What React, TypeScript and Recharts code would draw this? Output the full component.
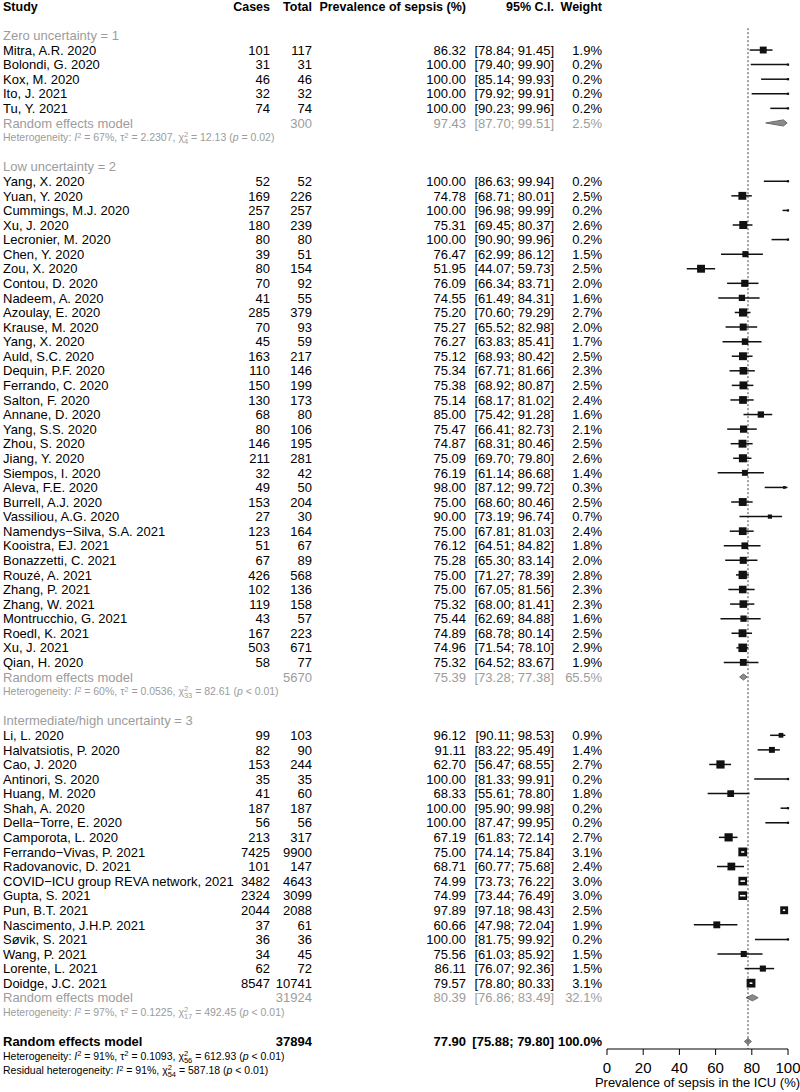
import React from "react";
import { ComposedChart, XAxis, YAxis, Scatter, ErrorBar, Area, ReferenceLine } from "recharts";

const FONT = "'Liberation Sans', Arial, Helvetica, sans-serif";
const W = 800;
const H = 1092;
const M = { top: 0, right: 12, bottom: 13, left: 607 };
const X_AXIS_H = 30;
const PLOT_H = H - M.top - M.bottom - X_AXIS_H;
const PLOT_W = W - M.left - M.right;
const Y_MIN = -0.432;
const Y_MAX = 71.516;
const PITCH = PLOT_H / (Y_MAX - Y_MIN);
const PX_PER_UNIT = PLOT_W / 100;

const GRAY = "#9c9c9c";
const BLACK = "#000";

// column anchors (table layout)
const COL_STUDY = 3;
const COL_CASES = 270;
const COL_TOTAL = 312;
const COL_PREV = 466;
const COL_CI = 554;
const COL_W = 602;

const headers = ["Study", "Cases", "Total", "Prevalence of sepsis (%)", "95% C.I.", "Weight"];
const groupLabels = ["Zero uncertainty = 1", "Low uncertainty = 2", "Intermediate/high uncertainty = 3"];

const studyNames = [
  "Mitra, A.R. 2020", "Bolondi, G. 2020", "Kox, M. 2020", "Ito, J. 2021", "Tu, Y. 2021",
  "Yang, X. 2020", "Yuan, Y. 2020", "Cummings, M.J. 2020", "Xu, J. 2020", "Lecronier, M. 2020",
  "Chen, Y. 2020", "Zou, X. 2020", "Contou, D. 2020", "Nadeem, A. 2020", "Azoulay, E. 2020",
  "Krause, M. 2020", "Yang, X. 2020", "Auld, S.C. 2020", "Dequin, P.F. 2020", "Ferrando, C. 2020",
  "Salton, F. 2020", "Annane, D. 2020", "Yang, S.S. 2020", "Zhou, S. 2020", "Jiang, Y. 2020",
  "Siempos, I. 2020", "Aleva, F.E. 2020", "Burrell, A.J. 2020", "Vassiliou, A.G. 2020",
  "Namendys\u2212Silva, S.A. 2021", "Kooistra, EJ. 2021", "Bonazzetti, C. 2021", "Rouzé, A. 2021",
  "Zhang, P. 2021", "Zhang, W. 2021", "Montrucchio, G. 2021", "Roedl, K. 2021", "Xu, J. 2021",
  "Qian, H. 2020",
  "Li, L. 2020", "Halvatsiotis, P. 2020", "Cao, J. 2020", "Antinori, S. 2020", "Huang, M. 2020",
  "Shah, A. 2020", "Della\u2212Torre, E. 2020", "Camporota, L. 2020", "Ferrando\u2212Vivas, P. 2021",
  "Radovanovic, D. 2021", "COVID\u2212ICU group REVA network, 2021", "Gupta, S. 2021", "Pun, B.T. 2021",
  "Nascimento, J.H.P. 2021", "Søvik, S. 2021", "Wang, P. 2021", "Lorente, L. 2021", "Doidge, J.C. 2021",
];
const studyGroup = [
  0, 0, 0, 0, 0,
  1, 1, 1, 1, 1, 1, 1, 1, 1, 1, 1, 1, 1, 1, 1, 1, 1, 1, 1, 1, 1, 1, 1, 1, 1, 1, 1, 1, 1, 1, 1, 1, 1, 1,
  2, 2, 2, 2, 2, 2, 2, 2, 2, 2, 2, 2, 2, 2, 2, 2, 2, 2,
];
const cases = [
  101, 31, 46, 32, 74,
  52, 169, 257, 180, 80, 39, 80, 70, 41, 285, 70, 45, 163, 110, 150, 130, 68, 80, 146, 211, 32, 49, 153, 27, 123, 51, 67, 426, 102, 119, 43, 167, 503, 58,
  99, 82, 153, 35, 41, 187, 56, 213, 7425, 101, 3482, 2324, 2044, 37, 36, 34, 62, 8547,
];
const totals = [
  117, 31, 46, 32, 74,
  52, 226, 257, 239, 80, 51, 154, 92, 55, 379, 93, 59, 217, 146, 199, 173, 80, 106, 195, 281, 42, 50, 204, 30, 164, 67, 89, 568, 136, 158, 57, 223, 671, 77,
  103, 90, 244, 35, 60, 187, 56, 317, 9900, 147, 4643, 3099, 2088, 61, 36, 45, 72, 10741,
];
const prevalence = [
  86.32, 100, 100, 100, 100,
  100, 74.78, 100, 75.31, 100, 76.47, 51.95, 76.09, 74.55, 75.2, 75.27, 76.27, 75.12, 75.34, 75.38, 75.14, 85.0, 75.47, 74.87, 75.09, 76.19, 98.0, 75.0, 90.0, 75.0, 76.12, 75.28, 75.0, 75.0, 75.32, 75.44, 74.89, 74.96, 75.32,
  96.12, 91.11, 62.7, 100, 68.33, 100, 100, 67.19, 75.0, 68.71, 74.99, 74.99, 97.89, 60.66, 100, 75.56, 86.11, 79.57,
];
const ciLower = [
  78.84, 79.4, 85.14, 79.92, 90.23,
  86.63, 68.71, 96.98, 69.45, 90.9, 62.99, 44.07, 66.34, 61.49, 70.6, 65.52, 63.83, 68.93, 67.71, 68.92, 68.17, 75.42, 66.41, 68.31, 69.7, 61.14, 87.12, 68.6, 73.19, 67.81, 64.51, 65.3, 71.27, 67.05, 68.0, 62.69, 68.78, 71.54, 64.52,
  90.11, 83.22, 56.47, 81.33, 55.61, 95.9, 87.47, 61.83, 74.14, 60.77, 73.73, 73.44, 97.18, 47.98, 81.75, 61.03, 76.07, 78.8,
];
const ciUpper = [
  91.45, 99.9, 99.93, 99.91, 99.96,
  99.94, 80.01, 99.99, 80.37, 99.96, 86.12, 59.73, 83.71, 84.31, 79.29, 82.98, 85.41, 80.42, 81.66, 80.87, 81.02, 91.28, 82.73, 80.46, 79.8, 86.68, 99.72, 80.46, 96.74, 81.03, 84.82, 83.14, 78.39, 81.56, 81.41, 84.88, 80.14, 78.1, 83.67,
  98.53, 95.49, 68.55, 99.91, 78.8, 99.98, 99.95, 72.14, 75.84, 75.68, 76.22, 76.49, 98.43, 72.04, 99.92, 85.92, 92.36, 80.33,
];
const weights = [
  1.9, 0.2, 0.2, 0.2, 0.2,
  0.2, 2.5, 0.2, 2.6, 0.2, 1.5, 2.5, 2.0, 1.6, 2.7, 2.0, 1.7, 2.5, 2.3, 2.5, 2.4, 1.6, 2.1, 2.5, 2.6, 1.4, 0.3, 2.5, 0.7, 2.4, 1.8, 2.0, 2.8, 2.3, 2.3, 1.6, 2.5, 2.9, 1.9,
  0.9, 1.4, 2.7, 0.2, 1.8, 0.2, 0.2, 2.7, 3.1, 2.4, 3.0, 3.0, 2.5, 1.9, 0.2, 1.5, 1.5, 3.1,
];

// subgroup random-effects summaries
const subTotals = [300, 5670, 31924];
const subEst = [97.43, 75.39, 80.39];
const subLower = [87.7, 73.28, 76.86];
const subUpper = [99.51, 77.38, 83.49];
const subWeight = [2.5, 65.5, 32.1];
const subI2 = ["67%", "60%", "97%"];
const subTau2 = ["2.2307", "0.0536", "0.1225"];
const subDf = ["4", "33", "17"];
const subChi = ["12.13", "82.61", "492.45"];
const subP = ["= 0.02", "< 0.01", "< 0.01"];

// overall
const overallTotal = 37894;
const overallEst = 77.9;
const overallLower = 75.88;
const overallUpper = 79.8;
const overallWeight = 100.0;
const overallHet = { i2: "91%", tau2: "0.1093", df: "56", chi: "612.93", p: "< 0.01" };
const residualHet = { i2: "91%", df: "54", chi: "587.18", p: "< 0.01" };

const xTicks = [0, 20, 40, 60, 80, 100];
const axisTitle = "Prevalence of sepsis in the ICU (%)";

// ---- build rows ----
type Row = { row: number; x: number; kind: string; i?: number; g?: number };
const rows: Row[] = [];
const studyRowOf: number[] = [];
const subRowOf: number[] = [];
rows.push({ row: 0, x: 50, kind: "header" });
let r = 2;
for (let g = 0; g < 3; g++) {
  rows.push({ row: r++, x: 50, kind: "group", g });
  studyNames.forEach((_, i) => {
    if (studyGroup[i] === g) {
      studyRowOf[i] = r;
      rows.push({ row: r++, x: 50, kind: "study", i });
    }
  });
  subRowOf[g] = r;
  rows.push({ row: r++, x: 50, kind: "sub", g });
  rows.push({ row: r++, x: 50, kind: "subhet", g });
  r++;
}
const overallRow = r;
rows.push({ row: overallRow, x: 50, kind: "overall" });

const sideOf = (w: number) => Math.max(2.2, 5 * Math.sqrt(w));

const studyPoints = studyNames.map((_, i) => ({
  x: prevalence[i],
  row: studyRowOf[i],
  err: [prevalence[i] - ciLower[i], ciUpper[i] - prevalence[i]],
  w: weights[i],
}));

const DH = 0.21;
const diamond = (row: number, lo: number, est: number, hi: number) => [
  { x: lo, d: [row, row] },
  { x: est, d: [row - DH, row + DH] },
  { x: hi, d: [row, row] },
];
const diamonds = [
  ...subEst.map((e, g) => diamond(subRowOf[g], subLower[g], e, subUpper[g])),
  diamond(overallRow, overallLower, overallEst, overallUpper),
];

const f2 = (v: number) => v.toFixed(2);
const ci = (lo: number, hi: number) => `[${f2(lo)}; ${f2(hi)}]`;
const pct = (w: number) => `${w.toFixed(1)}%`;

function Txt(props: {
  x: number; y: number; s: string | number; anchor?: "start" | "end" | "middle";
  color?: string; bold?: boolean; size?: number;
}) {
  const { x, y, s, anchor = "start", color = BLACK, bold = false, size = 13 } = props;
  return (
    <text x={x} y={y} dy="0.36em" textAnchor={anchor} fontFamily={FONT} fontSize={size}
      fontWeight={bold ? "bold" : "normal"} fill={color}>
      {s}
    </text>
  );
}

function Het(props: {
  y: number; label: string; i2: string; tau2?: string; df: string; chi: string; p: string; color: string;
}) {
  const { y, label, i2, tau2, df, chi, p, color } = props;
  const fs = 10.5;
  const ss = 7.5;
  return (
    <text x={COL_STUDY} y={y} dy="0.36em" fontFamily={FONT} fontSize={fs} fill={color}>
      {label}: <tspan fontStyle="italic">I</tspan>
      <tspan dy={-3.5} fontSize={ss}>2</tspan>
      <tspan dy={3.5}>{` = ${i2}, `}</tspan>
      {tau2 !== undefined ? (
        <>
          <tspan>τ</tspan>
          <tspan dy={-3.5} fontSize={ss}>2</tspan>
          <tspan dy={3.5}>{` = ${tau2}, `}</tspan>
        </>
      ) : null}
      <tspan>χ</tspan>
      <tspan dy={-4} fontSize={ss}>2</tspan>
      <tspan dx={-4.2} dy={7} fontSize={ss}>{df}</tspan>
      <tspan dy={-3}>{` = ${chi} (`}</tspan>
      <tspan fontStyle="italic">p</tspan>
      <tspan>{` ${p})`}</tspan>
    </text>
  );
}

function RowText(props: any) {
  const { cy, payload } = props;
  const p = payload as Row;
  const y = cy;
  if (p.kind === "header") {
    const hs = 12.5;
    return (
      <g>
        <Txt x={COL_STUDY} y={y} s={headers[0]} bold size={hs} />
        <Txt x={COL_CASES} y={y} s={headers[1]} bold anchor="end" size={hs} />
        <Txt x={COL_TOTAL} y={y} s={headers[2]} bold anchor="end" size={hs} />
        <Txt x={COL_PREV} y={y} s={headers[3]} bold anchor="end" size={hs} />
        <Txt x={COL_CI} y={y} s={headers[4]} bold anchor="end" size={hs} />
        <Txt x={COL_W} y={y} s={headers[5]} bold anchor="end" size={hs} />
      </g>
    );
  }
  if (p.kind === "group") {
    return <Txt x={COL_STUDY} y={y} s={groupLabels[p.g!]} color={GRAY} />;
  }
  if (p.kind === "study") {
    const i = p.i!;
    return (
      <g>
        <Txt x={COL_STUDY} y={y} s={studyNames[i]} />
        <Txt x={COL_CASES} y={y} s={cases[i]} anchor="end" />
        <Txt x={COL_TOTAL} y={y} s={totals[i]} anchor="end" />
        <Txt x={COL_PREV} y={y} s={f2(prevalence[i])} anchor="end" />
        <Txt x={COL_CI} y={y} s={ci(ciLower[i], ciUpper[i])} anchor="end" />
        <Txt x={COL_W} y={y} s={pct(weights[i])} anchor="end" />
      </g>
    );
  }
  if (p.kind === "sub") {
    const g = p.g!;
    return (
      <g>
        <Txt x={COL_STUDY} y={y} s="Random effects model" color={GRAY} />
        <Txt x={COL_TOTAL} y={y} s={subTotals[g]} anchor="end" color={GRAY} />
        <Txt x={COL_PREV} y={y} s={f2(subEst[g])} anchor="end" color={GRAY} />
        <Txt x={COL_CI} y={y} s={ci(subLower[g], subUpper[g])} anchor="end" color={GRAY} />
        <Txt x={COL_W} y={y} s={pct(subWeight[g])} anchor="end" color={GRAY} />
      </g>
    );
  }
  if (p.kind === "subhet") {
    const g = p.g!;
    return (
      <Het y={y} label="Heterogeneity" i2={subI2[g]} tau2={subTau2[g]} df={subDf[g]} chi={subChi[g]}
        p={subP[g]} color={GRAY} />
    );
  }
  if (p.kind === "overall") {
    return (
      <g>
        <Txt x={COL_STUDY} y={y} s="Random effects model" bold />
        <Txt x={COL_TOTAL} y={y} s={overallTotal} anchor="end" bold />
        <Txt x={COL_PREV} y={y} s={f2(overallEst)} anchor="end" bold />
        <Txt x={COL_CI} y={y} s={ci(overallLower, overallUpper)} anchor="end" bold />
        <Txt x={COL_W} y={y} s={pct(overallWeight)} anchor="end" bold />
        <Het y={y + PITCH} label="Heterogeneity" i2={overallHet.i2} tau2={overallHet.tau2} df={overallHet.df}
          chi={overallHet.chi} p={overallHet.p} color={BLACK} />
        <Het y={y + 2 * PITCH} label="Residual heterogeneity" i2={residualHet.i2} df={residualHet.df}
          chi={residualHet.chi} p={residualHet.p} color={BLACK} />
      </g>
    );
  }
  return <g />;
}

// study square; when the CI lies completely inside the square, the CI is drawn in white on top
function Square(props: any) {
  const { cx, cy, payload } = props;
  const s = sideOf(payload.w);
  const left = payload.err[0] * PX_PER_UNIT;
  const right = payload.err[1] * PX_PER_UNIT;
  const inside = left + right < s;
  return (
    <g>
      <rect x={cx - s / 2} y={cy - s / 2} width={s} height={s} fill="#111" />
      {inside ? (
        <line x1={cx - left} x2={cx + right} y1={cy} y2={cy} stroke="#fff" strokeWidth={1.6} />
      ) : null}
    </g>
  );
}

export default function App() {
  return (
    <div style={{ width: W, height: H, background: "#fff" }}>
      <style>{"body{margin:0;background:#fff}"}</style>
      <ComposedChart width={W} height={H} margin={M}>
        <XAxis
          type="number"
          dataKey="x"
          domain={[0, 100]}
          ticks={xTicks}
          height={X_AXIS_H}
          stroke="#000"
          tickSize={6}
          tickMargin={7}
          tick={{ fontSize: 15, fill: "#000", fontFamily: FONT }}
          label={{ value: axisTitle, position: "insideBottom", offset: -8, fontSize: 13, fill: "#000", fontFamily: FONT }}
        />
        <YAxis type="number" hide reversed domain={[Y_MIN, Y_MAX]} />
        <ReferenceLine
          segment={[{ x: overallEst, y: 1.5 }, { x: overallEst, y: Y_MAX }]}
          stroke="#444"
          strokeDasharray="2 2"
          strokeWidth={1}
        />
        <Scatter data={rows} dataKey="row" shape={RowText} isAnimationActive={false} />
        {diamonds.map((d, k) => (
          <Area
            key={k}
            data={d}
            dataKey="d"
            type="linear"
            fill="#8a8a8a"
            fillOpacity={1}
            stroke="#6a6a6a"
            strokeWidth={1}
            dot={false}
            activeDot={false}
            isAnimationActive={false}
          />
        ))}
        <Scatter data={studyPoints} dataKey="row" shape={Square} isAnimationActive={false}>
          <ErrorBar dataKey="err" direction="x" width={0} stroke="#111" strokeWidth={1.5} />
        </Scatter>
      </ComposedChart>
    </div>
  );
}
